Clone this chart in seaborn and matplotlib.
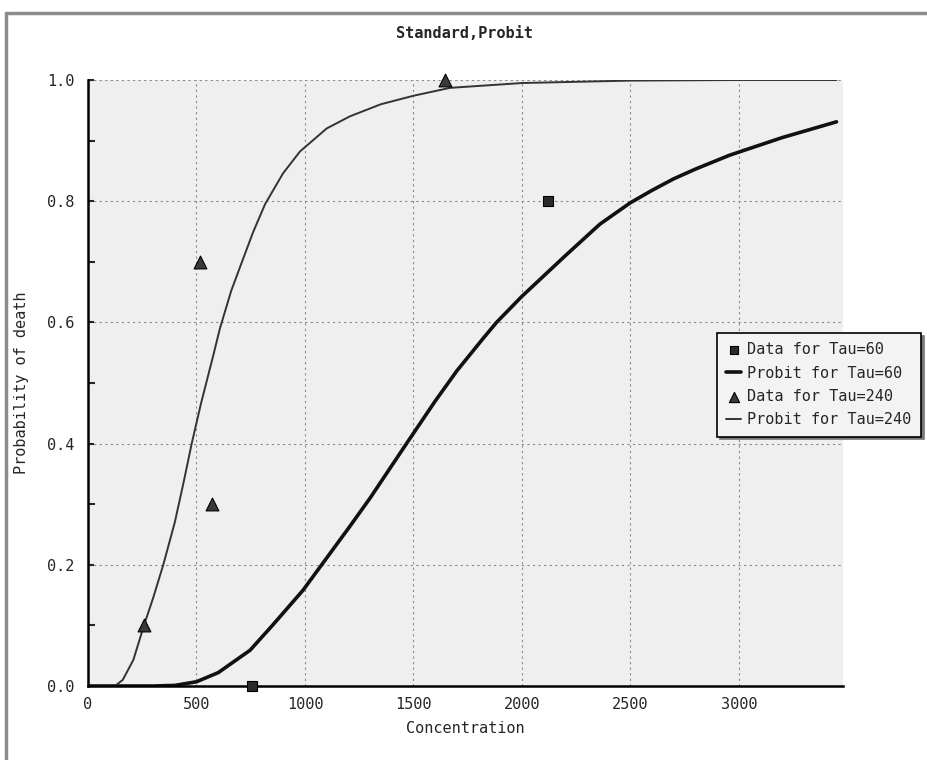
import numpy as np
import pandas as pd
import matplotlib
matplotlib.use("Agg")
import matplotlib.pyplot as plt
from matplotlib.lines import Line2D
import seaborn as sns

# probit curves
conc_tau60 = [0, 300, 400, 500, 600, 747, 850, 991, 1077, 1200, 1300, 1468, 1600,
              1700, 1820, 1883, 2000, 2200, 2359, 2498, 2600, 2700, 2800, 2958,
              3200, 3450]
prob_tau60 = [0.0, 0.0, 0.001, 0.007, 0.022, 0.059, 0.10, 0.158, 0.20, 0.26, 0.31,
              0.40, 0.47, 0.52, 0.573, 0.60, 0.643, 0.71, 0.762, 0.797, 0.818,
              0.837, 0.853, 0.876, 0.905, 0.931]

conc_tau240 = [0, 124, 160, 209, 258, 300, 347, 400, 440, 478, 520, 577, 608, 660,
               715, 760, 816, 899, 977, 1100, 1207, 1350, 1500, 1668, 2000, 2500,
               3000, 3450]
prob_tau240 = [0.0, 0.0, 0.01, 0.043, 0.10, 0.145, 0.20, 0.27, 0.335, 0.40, 0.465,
               0.545, 0.59, 0.652, 0.705, 0.748, 0.795, 0.846, 0.882, 0.92, 0.94,
               0.96, 0.974, 0.987, 0.995, 0.999, 1.0, 1.0]

# observed data
data_conc_tau60 = [755, 2120]
data_prob_tau60 = [0.0, 0.8]
data_conc_tau240 = [258, 516, 570, 1645]
data_prob_tau240 = [0.1, 0.7, 0.3, 1.0]

x_ticks = [0, 500, 1000, 1500, 2000, 2500, 3000]
y_ticks = [0.0, 0.2, 0.4, 0.6, 0.8, 1.0]

sns.set_style("ticks")
plt.rcParams["font.family"] = ["DejaVu Sans Mono", "DejaVu Sans"]
plt.rcParams["font.size"] = 11

fig = plt.figure(figsize=(9.28, 7.6), dpi=100)
ax = fig.add_axes([88 / 928, 1 - 686 / 760, 755 / 928, 606 / 760])
ax.set_facecolor("#efefef")

curve60 = pd.DataFrame({"x": conc_tau60, "y": prob_tau60})
curve240 = pd.DataFrame({"x": conc_tau240, "y": prob_tau240})
pts60 = pd.DataFrame({"x": data_conc_tau60, "y": data_prob_tau60})
pts240 = pd.DataFrame({"x": data_conc_tau240, "y": data_prob_tau240})

sns.lineplot(data=curve60, x="x", y="y", ax=ax, color="#111111", linewidth=2.6,
             label="Probit for Tau=60", sort=False)
sns.lineplot(data=curve240, x="x", y="y", ax=ax, color="#333333", linewidth=1.4,
             label="Probit for Tau=240", sort=False)
sns.scatterplot(data=pts60, x="x", y="y", ax=ax, marker="s", s=55, color="#2a2a2a",
                edgecolor="black", linewidth=0.8, label="Data for Tau=60",
                clip_on=False, zorder=5)
sns.scatterplot(data=pts240, x="x", y="y", ax=ax, marker="^", s=85, color="#3a3a3a",
                edgecolor="black", linewidth=0.8, label="Data for Tau=240",
                clip_on=False, zorder=5)

ax.set_xlim(0, 3480)
ax.set_ylim(0, 1.0)
ax.set_xticks(x_ticks)
ax.set_yticks(y_ticks)
ax.set_yticklabels([f"{v:.1f}" for v in y_ticks])
ax.set_yticks([0.1, 0.3, 0.5, 0.7, 0.9], minor=True)
ax.tick_params(axis="x", length=0, pad=8, labelsize=11)
ax.tick_params(axis="y", which="major", direction="in", length=4, width=1.5,
               pad=10, labelsize=11)
ax.tick_params(axis="y", which="minor", direction="in", length=5, width=1.5)

ax.grid(True, which="major", color="#8a8a8a", linestyle=(0, (2, 3)), linewidth=0.8)
ax.set_axisbelow(True)
for side in ["top", "right"]:
    ax.spines[side].set_visible(False)
for side in ["left", "bottom"]:
    ax.spines[side].set_linewidth(1.8)
    ax.spines[side].set_color("black")

ax.set_xlabel("Concentration", fontsize=11)
ax.set_ylabel("Probability of death", fontsize=11)
ax.xaxis.set_label_coords(0.5, -0.058)
ax.yaxis.set_label_coords(-0.078, 0.5)

fig.text(0.5, 1 - 33 / 760, "Standard,Probit", ha="center", va="center",
         fontsize=11, fontweight="bold")

handles, labels = ax.get_legend_handles_labels()
lookup = dict(zip(labels, handles))
order = ["Data for Tau=60", "Probit for Tau=60", "Data for Tau=240", "Probit for Tau=240"]
leg = ax.legend([lookup[k] for k in order], order, loc="upper left",
                bbox_to_anchor=(0.833, 0.5825), borderaxespad=0, fontsize=11,
                frameon=True, fancybox=False,
                shadow={"color": "#777777", "alpha": 1},
                facecolor="#f3f3f3", edgecolor="black", framealpha=1,
                handlelength=1.0, handletextpad=0.4, borderpad=0.6,
                labelspacing=0.55, markerscale=0.8)
leg.get_frame().set_linewidth(1.2)

# outer frame of the original screenshot
fig.add_artist(Line2D([6 / 928, 1], [1 - 13 / 760] * 2, transform=fig.transFigure,
                      color="#8c8c8c", linewidth=2.5))
fig.add_artist(Line2D([6 / 928] * 2, [0, 1 - 13 / 760], transform=fig.transFigure,
                      color="#8c8c8c", linewidth=2.5))

fig.savefig("out.png", dpi=100, facecolor="white")
